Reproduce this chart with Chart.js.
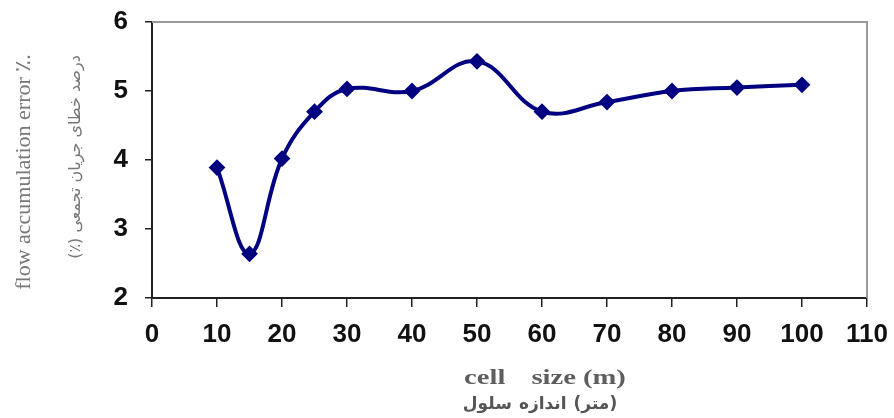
<!DOCTYPE html>
<html>
<head>
<meta charset="utf-8">
<script src="https://cdn.jsdelivr.net/npm/chart.js@4/dist/chart.umd.min.js"></script>
<style>
  html,body{margin:0;padding:0;background:#fff;}
  #wrap{width:894px;height:418px;}
</style>
</head>
<body>
<div id="wrap"><canvas id="c1" width="894" height="418"></canvas></div>
<script>
// data
const cellSize = [10, 15, 20, 25, 30, 40, 50, 60, 70, 80, 90, 100];
const errorPct = [3.89, 2.64, 4.02, 4.70, 5.03, 5.00, 5.43, 4.70, 4.84, 5.00, 5.05, 5.09];
const xTitle = ['cell', 'size (m)'];
const xTitleFa = ['سلول', 'اندازه', '(متر)'];   // left to right as printed
const yTitle = 'flow accumulation error ٪.';
const yTitleFa = 'درصد خطای جریان تجمعی (٪)';

const TICK_FONT = {family:"'Liberation Sans', Arial, sans-serif", size:26, weight:'bold'};

// draws pieces of text left to right, centred as a group on cx
function rowText(ctx, parts, cx, y, gap){
  const w = parts.map(p => ctx.measureText(p).width);
  const total = w.reduce((a,b)=>a+b,0) + gap*(parts.length-1);
  let x = cx - total/2;
  ctx.textAlign = 'left';
  parts.forEach((p,i)=>{ ctx.fillText(p, x, y); x += w[i] + gap; });
}

/* frame + axis titles */
const extras = {
  id:'extras',
  beforeDatasetsDraw(chart){
    const {ctx, chartArea:a} = chart;
    ctx.save();
    ctx.strokeStyle = '#9a9a9a';
    ctx.lineWidth = 2;
    ctx.beginPath();
    ctx.moveTo(a.left, a.top); ctx.lineTo(a.right, a.top); ctx.lineTo(a.right, a.bottom);
    ctx.stroke();
    ctx.restore();
  },
  afterDraw(chart){
    const ctx = chart.ctx;
    ctx.save();
    ctx.textBaseline = 'middle';
    // x titles
    ctx.fillStyle = '#5e5e5e';
    ctx.save();
    ctx.translate(545, 378); ctx.scale(1.3, 1);
    ctx.font = "bold 22px 'Liberation Serif', serif";
    rowText(ctx, xTitle, 0, 0, 20);
    ctx.restore();
    ctx.fillStyle = '#555';
    ctx.font = "bold 17px 'DejaVu Sans', sans-serif";
    rowText(ctx, xTitleFa, 540, 405, 7);
    // y titles
    ctx.textAlign = 'center';
    ctx.save();
    ctx.translate(24, 172); ctx.rotate(-Math.PI/2);
    ctx.fillStyle = '#777';
    ctx.font = "22px 'Liberation Serif', serif";
    ctx.fillText(yTitle, 0, 0);
    ctx.restore();
    ctx.save();
    ctx.translate(76, 157); ctx.rotate(-Math.PI/2);
    ctx.fillStyle = '#777';
    ctx.direction = 'rtl';
    ctx.font = "16px 'DejaVu Sans', sans-serif";
    ctx.fillText(yTitleFa, 0, 0);
    ctx.restore();
    ctx.restore();
  }
};

new Chart(document.getElementById('c1'), {
  type:'line',
  data:{datasets:[{
    data: cellSize.map((x,i)=>({x, y:errorPct[i]})),
    borderColor:'#000080',
    borderWidth:4,
    tension:0.4,
    pointStyle:'rectRot',
    pointRadius:7,
    pointBackgroundColor:'#000080',
    pointBorderColor:'#000080',
    pointBorderWidth:2
  }]},
  options:{
    responsive:false, animation:false,
    layout:{padding:{top:22, right:27, bottom:0, left:0}},
    plugins:{legend:{display:false}, tooltip:{enabled:false}},
    scales:{
      x:{
        type:'linear', min:0, max:110,
        afterFit:s=>{ s.height = 120; s.paddingLeft = 0; s.paddingRight = 0; },
        border:{color:'#222', width:2},
        grid:{drawOnChartArea:false, tickLength:9, color:'#222', lineWidth:1.5},
        ticks:{stepSize:10, font:TICK_FONT, color:'#111', padding:12, maxRotation:0}
      },
      y:{
        min:2, max:6,
        afterFit:s=>{ s.width = 152; s.paddingTop = 0; s.paddingBottom = 0; },
        border:{color:'#222', width:2},
        grid:{drawOnChartArea:false, tickLength:7, color:'#222', lineWidth:1.5},
        ticks:{stepSize:1, font:TICK_FONT, color:'#111', padding:17}
      }
    }
  },
  plugins:[extras]
});
</script>
</body>
</html>
